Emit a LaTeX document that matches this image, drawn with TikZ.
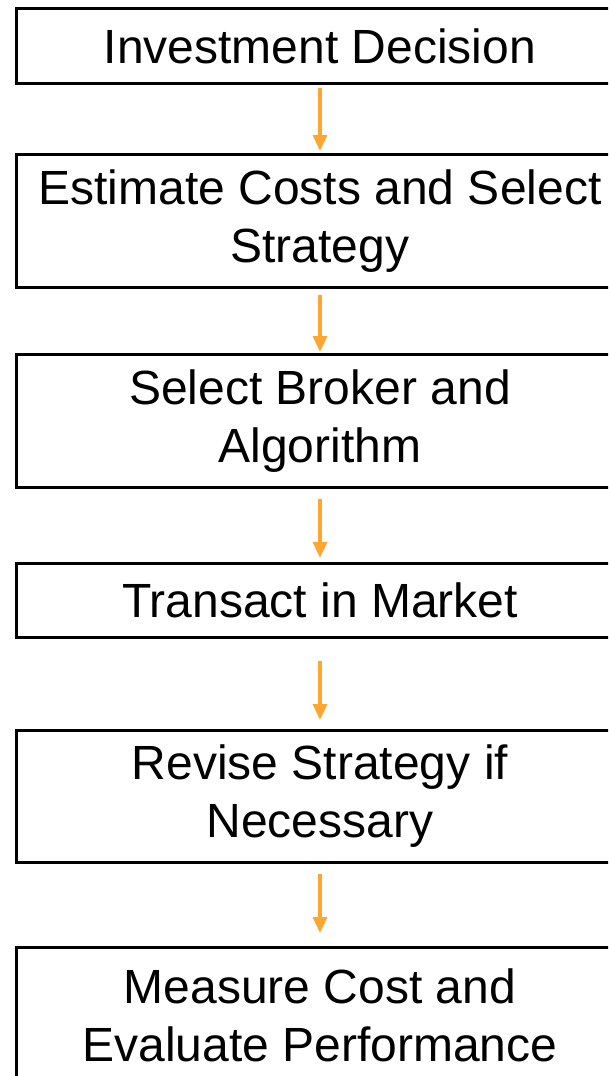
\documentclass[tikz,border=0pt]{standalone}
\usepackage{fontspec}
\setmainfont{Liberation Sans}
\usetikzlibrary{arrows.meta}
\definecolor{flowarrow}{RGB}{255,166,48}
\tikzset{
  stagebox/.style={draw=black, line width=3pt, fill=white, minimum width=607pt,
    inner sep=0pt, align=center, font=\fontsize{48}{58}\selectfont},
  flow/.style={draw=flowarrow, line width=3.2pt,
    -{Triangle[width=14pt,length=16pt]}}
}
\begin{document}
\begin{tikzpicture}[x=1pt,y=-1pt]
\useasboundingbox (0,0) rectangle (608,1076);
\clip (0,0) rectangle (608,1076);
\fill[white] (0,0) rectangle (608,1076);
\node[stagebox, minimum height=75pt] (b1) at (320,46) {Investment Decision};
\node[stagebox, minimum height=133pt] (b2) at (320,221) {Estimate Costs and Select\\Strategy};
\node[stagebox, minimum height=133pt] (b3) at (320,421) {Select Broker and\\Algorithm};
\node[stagebox, minimum height=74pt] (b4) at (320,600.5) {Transact in Market};
\node[stagebox, minimum height=132pt] (b5) at (320,796.5) {Revise Strategy if\\Necessary};
\node[stagebox, minimum height=135pt] (b6) at (320,1015) {Measure Cost and\\Evaluate Performance};
\draw[flow, shorten <=3pt, shorten >=2pt] (b1.south) -- (b2.north);
\draw[flow, shorten <=6pt, shorten >=1pt] (b2.south) -- (b3.north);
\draw[flow, shorten <=10pt, shorten >=4pt] (b3.south) -- (b4.north);
\draw[flow, shorten <=22pt, shorten >=9pt] (b4.south) -- (b5.north);
\draw[flow, shorten <=10pt, shorten >=13pt] (b5.south) -- (b6.north);
\end{tikzpicture}
\end{document}
